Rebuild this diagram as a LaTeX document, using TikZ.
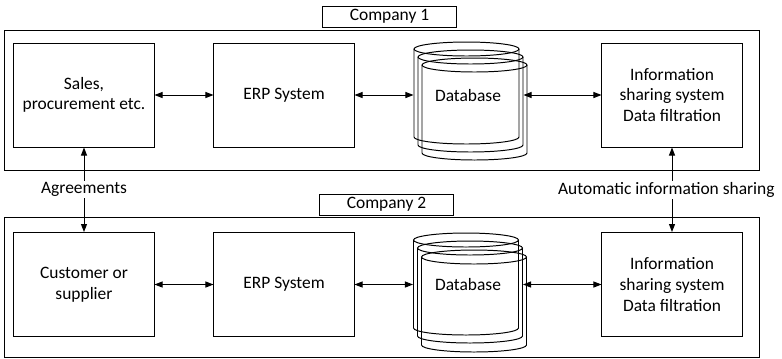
\documentclass[tikz,border=0pt]{standalone}
\usepackage{fontspec}
\setmainfont{Carlito}
\usetikzlibrary{shapes.geometric, arrows.meta, positioning, calc}

\begin{document}
\begin{tikzpicture}[x=0.025cm, y=-0.025cm, line width=0.7pt,
    every node/.style={font=\fontsize{12.4}{14.6}\selectfont},
    box/.style={rectangle, draw, minimum width=3.5cm, minimum height=2.6cm, align=center},
    sys/.style={rectangle, draw, minimum width=18.85cm, minimum height=3.475cm},
    tag/.style={rectangle, draw, minimum width=3.325cm, minimum height=0.525cm, inner sep=0pt},
    db/.style={rectangle, minimum width=2.625cm, minimum height=2.55cm, inner sep=0pt},
    cyl/.pic={
        \draw (0,-44) ellipse [x radius=52.5, y radius=7];
        \draw (-52.5,-44) -- (-52.5,44) arc[start angle=180, end angle=0, x radius=52.5, y radius=7] -- (52.5,-44);
    },
    arrow/.style={{Triangle[length=2mm,width=1.5mm]}-{Triangle[length=2mm,width=1.5mm]}}
]
\useasboundingbox (0,0) rectangle (782,358);

% Company 1
\node[sys] (c1) at (382,100.5) {};
\node[tag] (t1) at (389.5,16.5) {Company 1};
\node[box] (sales) at (84,95) {Sales,\\procurement etc.};
\node[box] (erp1) at (284,95) {ERP System};
\node[box] (info1) at (672,95) {Information\\sharing system\\Data filtration};
\foreach \n/\dx/\dy in {a/0/0, b/4/8, c/8/16} {
    \node[db] (db1\n) at (466.5+\dx,93+\dy) {};
    \pic at (db1\n) {cyl};
}
\node (dbt1) at (468,96) {Database};

% Company 2
\node[sys] (c2) at (382,287.5) {};
\node[tag] (t2) at (386.5,204.5) {Company 2};
\node[box] (cust) at (84,284.5) {Customer or\\supplier};
\node[box] (erp2) at (284,284.5) {ERP System};
\node[box] (info2) at (672,284.5) {Information\\sharing system\\Data filtration};
\foreach \n/\dx/\dy in {a/0/0, b/4/8, c/8/17} {
    \node[db] (db2\n) at (466+\dx,284+\dy) {};
    \pic at (db2\n) {cyl};
}
\node (dbt2) at (468,285) {Database};

% Connections
\draw[arrow] (sales) -- (erp1);
\draw[arrow] (erp1.east) -- (erp1.east -| db1a.west);
\draw[arrow] (info1.west) -- (info1.west -| db1b.east);
\draw[arrow] (cust) -- (erp2);
\draw[arrow] (erp2.east) -- (erp2.east -| db2a.west);
\draw[arrow] (info2.west) -- (info2.west -| db2b.east);
\draw[arrow] (sales) -- node[fill=white, inner sep=1pt] {Agreements} (cust);
\draw[arrow] (info1) -- node[fill=white, inner sep=1pt, xshift=-4] {Automatic information sharing} (info2);
\end{tikzpicture}
\end{document}
